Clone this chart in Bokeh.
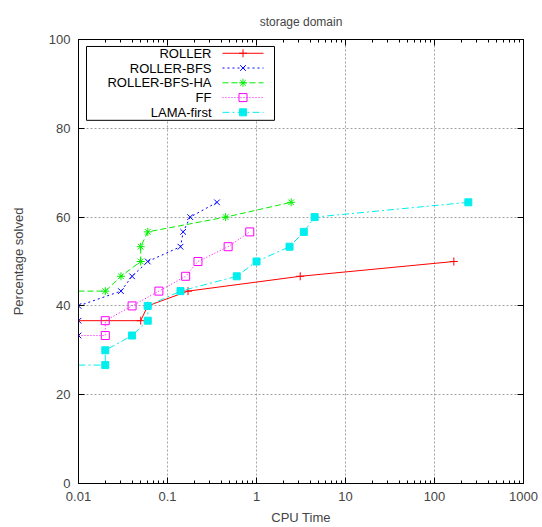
from bokeh.plotting import figure
from bokeh.models import Range1d, LogAxis, LinearAxis, FixedTicker, LinearScale
from bokeh.core.properties import value
from bokeh.embed import file_html
from bokeh.resources import INLINE

FONT = "Liberation Sans"

# ---- data ----
series_names = ["ROLLER", "ROLLER-BFS", "ROLLER-BFS-HA", "FF", "LAMA-first"]

roller_t = [0.01, 0.05, 0.06, 0.17, 3.1, 165]
roller_p = [36.67, 36.67, 40.0, 43.33, 46.67, 50.0]

bfs_t = [0.01, 0.01, 0.01, 0.03, 0.04, 0.06, 0.14, 0.15, 0.18, 0.36]
bfs_p = [33.33, 36.67, 40.0, 43.33, 46.67, 50.0, 53.33, 56.67, 60.0, 63.33]

ha_t = [0.01, 0.02, 0.03, 0.05, 0.05, 0.06, 0.45, 2.45]
ha_p = [43.33, 43.33, 46.67, 50.0, 53.33, 56.67, 60.0, 63.33]

ff_t = [0.01, 0.02, 0.02, 0.04, 0.08, 0.16, 0.22, 0.48, 0.84]
ff_p = [33.33, 33.33, 36.67, 40.0, 43.33, 46.67, 50.0, 53.33, 56.67]

lama_t = [0.01, 0.02, 0.02, 0.04, 0.06, 0.06, 0.14, 0.6, 1.0, 2.35, 3.4, 4.5, 240]
lama_p = [26.67, 26.67, 30.0, 33.33, 36.67, 40.0, 43.33, 46.67, 50.0, 53.33, 56.67, 60.0, 63.33]

# first index that carries a point marker (earlier points are the line start at the axis)
marker_start = [1, 0, 1, 1, 1]

x_ticks = [0.01, 0.1, 1, 10, 100, 1000]
x_tick_labels = ["0.01", "0.1", "1", "10", "100", "1000"]
y_ticks = [0, 20, 40, 60, 80, 100]

# ---- styles ----
colors = ["#ff0000", "#0000ff", "#00ee00", "#ff00ff", "#00eeee"]
dashes = ["solid", "2 3", "6 3", "1 2", "7 3 2 3"]
markers = ["cross", "x", "asterisk", "square", "square"]
fills = [None, None, None, None, "#00eeee"]

data = [(roller_t, roller_p), (bfs_t, bfs_p), (ha_t, ha_p), (ff_t, ff_p), (lama_t, lama_p)]

p = figure(width=542, height=527, x_axis_type="log",
           x_range=Range1d(0.01, 1000), y_range=Range1d(0, 100),
           output_backend="svg", toolbar_location=None,
           title="storage domain",
           min_border_left=78, min_border_right=19,
           min_border_top=39, min_border_bottom=43)

p.title.align = "center"
p.title.text_font = FONT
p.title.text_font_size = "12px"
p.title.text_font_style = "normal"
p.title.standoff = 22

minor = [k * 10.0 ** e for e in range(-2, 3) for k in range(2, 10)]
label_map = dict(zip(x_ticks, x_tick_labels))
xa = p.xaxis[0]
xa.ticker = FixedTicker(ticks=x_ticks, minor_ticks=minor)
xa.major_label_overrides = {float(k): v for k, v in label_map.items()}
ya = p.yaxis[0]
ya.ticker = FixedTicker(ticks=y_ticks)

for ax in (xa, ya):
    ax.major_label_text_font = FONT
    ax.major_label_text_font_size = "13px"
    ax.axis_label_text_font = FONT
    ax.axis_label_text_font_size = "13px"
    ax.axis_label_text_font_style = "normal"
    ax.major_tick_in = 6
    ax.major_tick_out = 0
    ax.minor_tick_in = 3
    ax.minor_tick_out = 0
    ax.axis_line_color = "black"
    ax.major_tick_line_color = "black"
    ax.minor_tick_line_color = "black"
    ax.major_label_standoff = 8

xa.axis_label = "CPU Time"
xa.axis_label_standoff = 6
ya.axis_label = "Percentage solved"
ya.axis_label_standoff = 20
ya.minor_tick_line_color = None

# mirror axes (ticks only)
top = LogAxis(ticker=FixedTicker(ticks=x_ticks, minor_ticks=minor),
              major_label_text_font_size="1px", major_label_text_color=None,
              major_tick_in=6, major_tick_out=0,
              minor_tick_in=3, minor_tick_out=0, major_label_standoff=0,
              axis_line_color="black", major_tick_line_color="black",
              minor_tick_line_color="black")
right = LinearAxis(ticker=FixedTicker(ticks=y_ticks),
                   major_label_text_font_size="1px", major_label_text_color=None,
                   major_tick_in=6, major_tick_out=0,
                   minor_tick_line_color=None, major_label_standoff=0,
                   axis_line_color="black", major_tick_line_color="black")
p.add_layout(top, "above")
p.add_layout(right, "right")

p.outline_line_color = "black"
p.xgrid.ticker = FixedTicker(ticks=x_ticks)
p.ygrid.ticker = FixedTicker(ticks=y_ticks)
for g in (p.xgrid[0], p.ygrid[0]):
    g.grid_line_color = "#a0a0a0"
    g.grid_line_dash = "2 2"
    g.grid_line_width = 1

for i, (t, v) in enumerate(data):
    p.line(t, v, line_color=colors[i], line_dash=dashes[i], line_width=1)
    s = marker_start[i]
    p.scatter(t[s:], v[s:], marker=markers[i], size=8 if fills[i] is None else 7,
              line_color=colors[i], fill_color=fills[i], line_width=1)

# ---- legend (gnuplot style: right aligned text, then sample), in frame pixels ----
p.extra_x_ranges = {"lx": Range1d(0, 445)}
p.extra_y_ranges = {"ly": Range1d(445, 0)}
p.extra_x_scales = {"lx": LinearScale()}
p.extra_y_scales = {"ly": LinearScale()}
p.quad(left=[8], right=[196], top=[7], bottom=[81], fill_color="white",
       line_color="black", line_width=1, x_range_name="lx", y_range_name="ly")
rows = [13.8, 28.6, 43.4, 58.2, 73.0]
p.text(x=[133] * 5, y=rows, text=series_names, text_align="right",
       text_baseline="middle", text_font=value(FONT), text_font_size="13px",
       text_color="black", x_range_name="lx", y_range_name="ly")
for i, yy in enumerate(rows):
    p.line([144, 185], [yy, yy], line_color=colors[i], line_dash=dashes[i],
           line_width=1, x_range_name="lx", y_range_name="ly")
    p.scatter([164.5], [yy], marker=markers[i], size=8 if fills[i] is None else 7,
              line_color=colors[i], fill_color=fills[i], line_width=1,
              x_range_name="lx", y_range_name="ly")

open("out.html", "w").write(file_html(p, INLINE))
